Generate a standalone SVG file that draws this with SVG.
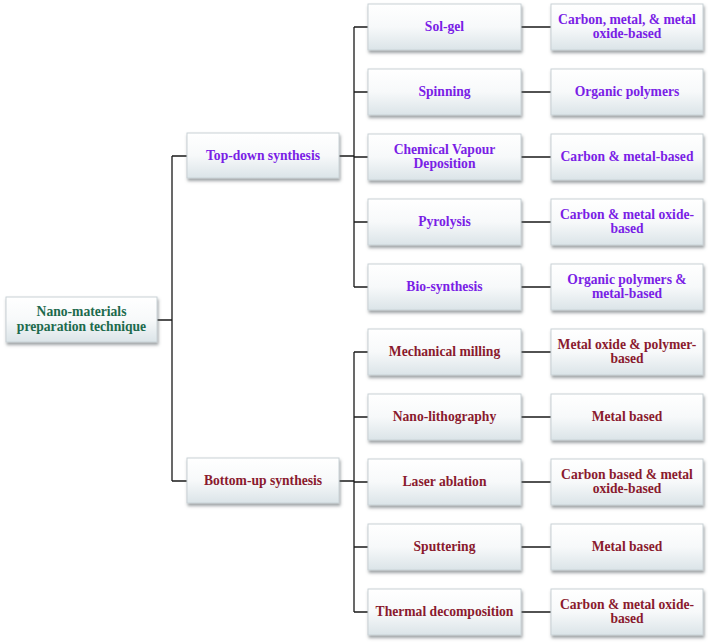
<svg xmlns="http://www.w3.org/2000/svg" width="709" height="644" viewBox="0 0 709 644">
<defs>
<linearGradient id="g" x1="0" y1="0" x2="0" y2="1">
<stop offset="0" stop-color="#ffffff"/>
<stop offset="0.5" stop-color="#f7f9fa"/>
<stop offset="1" stop-color="#dbe4e8"/>
</linearGradient>
<filter id="sh" x="-10%" y="-20%" width="120%" height="150%">
<feDropShadow dx="1" dy="2.5" stdDeviation="1.5" flood-color="#5a6468" flood-opacity="0.6"/>
</filter>
</defs>
<style>
.box{fill:url(#g);stroke:#c9d2d6;stroke-width:1;filter:url(#sh)}
text{font-family:"Liberation Serif","Times New Roman",serif;font-weight:bold;font-size:13.6px;text-anchor:middle}
.gr{fill:#1d6a4c}
.pu{fill:#7a1ee6}
.rd{fill:#8a1a2e}
.ln{stroke:#1a1a1a;stroke-width:1.3;fill:none}
</style>
<rect width="709" height="644" fill="#ffffff"/>
<g id="connectors">
<path class="ln" d="M157 320H172M172 156V481M172 156H187M172 481H187"/>
<path class="ln" d="M339 156H354M354 27V287M354 27H368M354 92H368M354 157H368M354 222H368M354 287H368"/>
<path class="ln" d="M339 481H354M354 352V612M354 352H368M354 417H368M354 482H368M354 547H368M354 612H368"/>
<path class="ln" d="M521 27H551M521 92H551M521 157H551M521 222H551M521 287H551M521 352H551M521 417H551M521 482H551M521 547H551M521 612H551"/>
</g>
<g id="root"><rect class="box" x="6" y="297" width="151" height="45"/><text class="gr" x="81.5" y="316">Nano-materials</text><text class="gr" x="81.5" y="331">preparation technique</text></g>
<g id="topdown"><rect class="box" x="187" y="133" width="152" height="45"/><text class="pu" x="263" y="160">Top-down synthesis</text></g>
<g id="bottomup"><rect class="box" x="187" y="458" width="152" height="45"/><text class="rd" x="263" y="485">Bottom-up synthesis</text></g>

<g id="solgel"><rect class="box" x="368" y="4" width="153" height="46"/><text class="pu" x="444.5" y="31">Sol-gel</text></g>
<g id="solgel-r"><rect class="box" x="551" y="4" width="152" height="46"/><text class="pu" x="627" y="24">Carbon, metal, &amp; metal</text><text class="pu" x="627" y="38">oxide-based</text></g>

<g id="spinning"><rect class="box" x="368" y="69" width="153" height="46"/><text class="pu" x="444.5" y="96">Spinning</text></g>
<g id="spinning-r"><rect class="box" x="551" y="69" width="152" height="46"/><text class="pu" x="627" y="96">Organic polymers</text></g>

<g id="cvd"><rect class="box" x="368" y="134" width="153" height="46"/><text class="pu" x="444.5" y="154">Chemical Vapour</text><text class="pu" x="444.5" y="168">Deposition</text></g>
<g id="cvd-r"><rect class="box" x="551" y="134" width="152" height="46"/><text class="pu" x="627" y="161">Carbon &amp; metal-based</text></g>

<g id="pyrolysis"><rect class="box" x="368" y="199" width="153" height="46"/><text class="pu" x="444.5" y="226">Pyrolysis</text></g>
<g id="pyrolysis-r"><rect class="box" x="551" y="199" width="152" height="46"/><text class="pu" x="627" y="219">Carbon &amp; metal oxide-</text><text class="pu" x="627" y="233">based</text></g>

<g id="bio"><rect class="box" x="368" y="264" width="153" height="46"/><text class="pu" x="444.5" y="291">Bio-synthesis</text></g>
<g id="bio-r"><rect class="box" x="551" y="264" width="152" height="46"/><text class="pu" x="627" y="284">Organic polymers &amp;</text><text class="pu" x="627" y="298">metal-based</text></g>

<g id="milling"><rect class="box" x="368" y="329" width="153" height="46"/><text class="rd" x="444.5" y="356">Mechanical milling</text></g>
<g id="milling-r"><rect class="box" x="551" y="329" width="152" height="46"/><text class="rd" x="627" y="349">Metal oxide &amp; polymer-</text><text class="rd" x="627" y="363">based</text></g>

<g id="litho"><rect class="box" x="368" y="394" width="153" height="46"/><text class="rd" x="444.5" y="421">Nano-lithography</text></g>
<g id="litho-r"><rect class="box" x="551" y="394" width="152" height="46"/><text class="rd" x="627" y="421">Metal based</text></g>

<g id="laser"><rect class="box" x="368" y="459" width="153" height="46"/><text class="rd" x="444.5" y="486">Laser ablation</text></g>
<g id="laser-r"><rect class="box" x="551" y="459" width="152" height="46"/><text class="rd" x="627" y="479">Carbon based &amp; metal</text><text class="rd" x="627" y="493">oxide-based</text></g>

<g id="sputter"><rect class="box" x="368" y="524" width="153" height="46"/><text class="rd" x="444.5" y="551">Sputtering</text></g>
<g id="sputter-r"><rect class="box" x="551" y="524" width="152" height="46"/><text class="rd" x="627" y="551">Metal based</text></g>

<g id="thermal"><rect class="box" x="368" y="589" width="153" height="46"/><text class="rd" x="444.5" y="616">Thermal decomposition</text></g>
<g id="thermal-r"><rect class="box" x="551" y="589" width="152" height="46"/><text class="rd" x="627" y="609">Carbon &amp; metal oxide-</text><text class="rd" x="627" y="623">based</text></g>
</svg>
